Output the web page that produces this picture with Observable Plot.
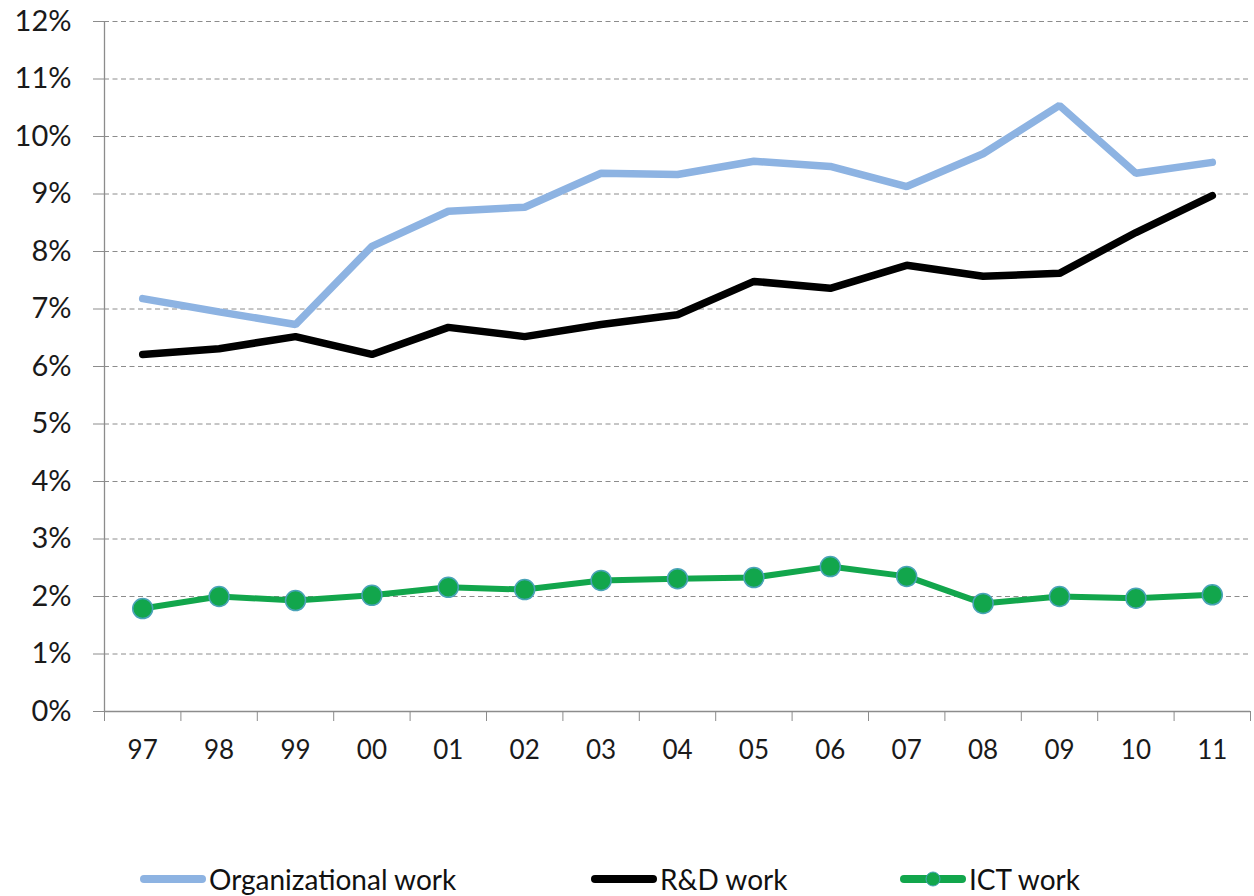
<!DOCTYPE html>
<html>
<head>
<meta charset="utf-8">
<script src="https://cdn.jsdelivr.net/npm/d3@7"></script>
<script src="https://cdn.jsdelivr.net/npm/@observablehq/plot@0.6"></script>
<style>
  html, body { margin: 0; padding: 0; background: #fff; }
  #wrap { position: relative; width: 1254px; height: 896px; font-family: Lato, "Open Sans", sans-serif; }
  #legend { position: absolute; left: 0; top: 861px; width: 1254px; height: 36px; }
  .item { position: absolute; top: 0; display: flex; align-items: center; font-size: 28px; color: #111; height: 36px; }
  .item svg { display: block; margin-right: 3px; }
</style>
</head>
<body>
<div id="wrap">
  <div id="chart"></div>
  <div id="legend"></div>
</div>
<script>
const years = ["97","98","99","00","01","02","03","04","05","06","07","08","09","10","11"];
const organizational = [7.18, 6.95, 6.73, 8.09, 8.70, 8.77, 9.36, 9.34, 9.57, 9.48, 9.13, 9.70, 10.54, 9.36, 9.55];
const rnd = [6.21, 6.31, 6.52, 6.21, 6.68, 6.52, 6.73, 6.90, 7.48, 7.36, 7.76, 7.57, 7.62, 8.33, 8.97];
const ict = [1.79, 2.00, 1.93, 2.02, 2.16, 2.12, 2.28, 2.31, 2.33, 2.52, 2.35, 1.88, 2.00, 1.97, 2.03];
const yTicks = [0,1,2,3,4,5,6,7,8,9,10,11,12];
const seriesNames = ["Organizational work", "R&D work", "ICT work"];
const colors = {org: "#8db3e2", rd: "#000000", ict: "#12a64c", ictStroke: "#4aa3b8"};

const toRows = (arr) => arr.map((v, i) => ({i, year: years[i], v}));
const orgRows = toRows(organizational);
const rdRows = toRows(rnd);
const ictRows = toRows(ict);
const idx = d3.range(years.length);
const bounds = d3.range(-0.5, years.length, 1);

const chart = Plot.plot({
  width: 1254,
  height: 830,
  marginLeft: 104,
  marginRight: 4,
  marginTop: 21,
  marginBottom: 119,
  style: {fontFamily: "Lato, 'Open Sans', sans-serif", background: "#fff"},
  x: {type: "linear", domain: [-0.5, years.length - 0.5], axis: null},
  y: {domain: [0, 12], axis: null},
  marks: [
    Plot.ruleY(yTicks.filter(d => d > 0), {stroke: "#8c8c8c", strokeWidth: 1, strokeDasharray: "5,3.5"}),
    Plot.axisY({ticks: yTicks, tickSize: 11, tickFormat: () => "", stroke: "#8c8c8c", label: null}),
    Plot.axisY({ticks: yTicks, tickSize: 0, tickPadding: 33, tickFormat: d => d + "%", fontSize: 29, fill: "#1a1a1a", label: null}),
    Plot.ruleX([-0.5], {stroke: "#8c8c8c", strokeWidth: 1.3}),
    Plot.ruleY([0], {stroke: "#8c8c8c", strokeWidth: 1.3}),
    Plot.axisX({ticks: bounds, tickSize: 10, tickFormat: () => "", stroke: "#8c8c8c", label: null}),
    Plot.axisX({ticks: idx, tickSize: 0, tickPadding: 29, tickFormat: i => years[i], fontSize: 26, fill: "#1a1a1a", label: null}),
    Plot.line(orgRows, {x: "i", y: "v", stroke: colors.org, strokeWidth: 7.5, strokeLinejoin: "miter", strokeLinecap: "round"}),
    Plot.line(rdRows, {x: "i", y: "v", stroke: colors.rd, strokeWidth: 7.5, strokeLinejoin: "miter", strokeLinecap: "round"}),
    Plot.line(ictRows, {x: "i", y: "v", stroke: colors.ict, strokeWidth: 6}),
    Plot.dot(ictRows, {x: "i", y: "v", r: 10, fill: colors.ict, stroke: colors.ictStroke, strokeWidth: 1.5})
  ]
});
document.getElementById("chart").appendChild(chart);

const legendItems = [
  {name: seriesNames[0], left: 140, color: colors.org, marker: false},
  {name: seriesNames[1], left: 591, color: colors.rd, marker: false},
  {name: seriesNames[2], left: 900, color: colors.ict, marker: true}
];
const legend = d3.select("#legend");
for (const it of legendItems) {
  const div = legend.append("div").attr("class", "item").style("left", it.left + "px");
  const svg = div.append("svg").attr("width", 66).attr("height", 20);
  svg.append("line").attr("x1", 4).attr("x2", 62).attr("y1", 10).attr("y2", 10)
    .attr("stroke", it.color).attr("stroke-width", 8).attr("stroke-linecap", "round");
  if (it.marker) {
    svg.append("circle").attr("cx", 33).attr("cy", 10).attr("r", 7)
      .attr("fill", it.color).attr("stroke", colors.ictStroke).attr("stroke-width", 1);
  }
  div.append("span").text(it.name);
}
</script>
</body>
</html>
